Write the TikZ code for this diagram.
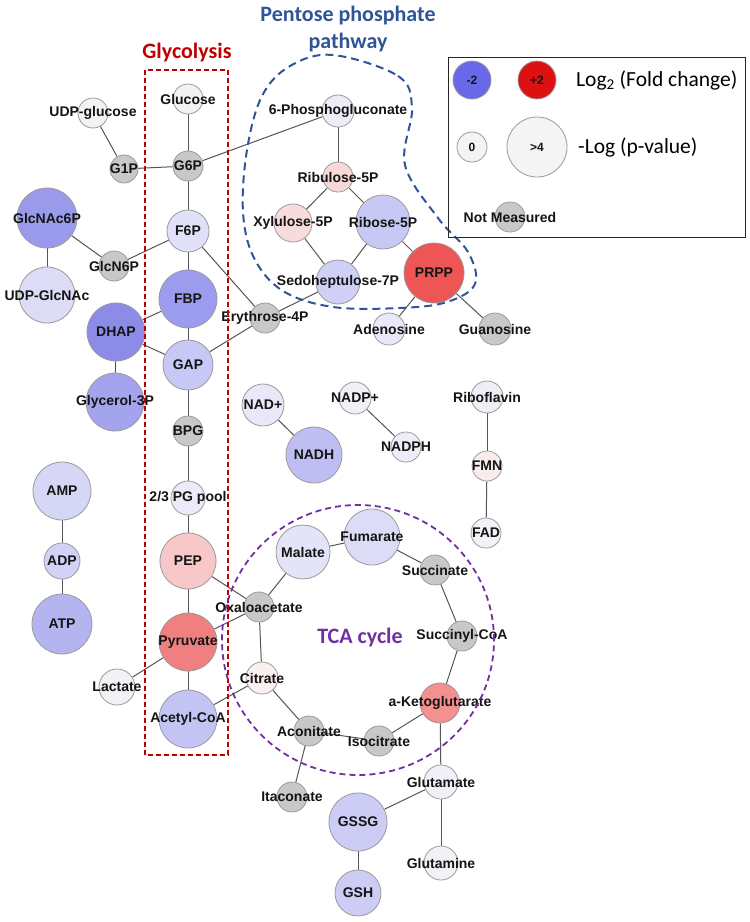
\documentclass[tikz,border=0pt]{standalone}
\usepackage{fontspec}
\setmainfont{Liberation Sans}
\newfontfamily\calfont{Carlito}
\pgfdeclarelayer{edgelayer}
\pgfsetlayers{edgelayer,main}
\definecolor{nodeborder}{HTML}{9A9A9A}
\definecolor{edgegray}{HTML}{555555}
\definecolor{glyred}{HTML}{C00000}
\definecolor{pppblue}{HTML}{2F5597}
\definecolor{tcapurple}{HTML}{7030A0}
\definecolor{nm}{HTML}{C8C8C8}
\newcommand\mnode[6]{%
  \definecolor{fill#1}{HTML}{#5}%
  \node[met,minimum size={2*#4pt},fill=fill#1,label={[lbl]center:{#6}}] (#1) at (#2,#3) {};}
\begin{document}
\begin{tikzpicture}[x=1pt,y=-1pt,
  met/.style={circle,draw=nodeborder,line width=0.8pt,inner sep=0pt},
  lbl/.style={font=\bfseries\fontsize{14}{14}\selectfont,text=black!92,inner sep=0pt},
  edge/.style={draw=edgegray,line width=1pt},
  ttl/.style={font=\calfont\bfseries\fontsize{22}{27}\selectfont,align=center},
  legtxt/.style={font=\calfont\fontsize{21.5}{22}\selectfont,anchor=west,inner sep=0pt},
  leglbl/.style={font=\bfseries\fontsize{12}{12}\selectfont,text=black!92,inner sep=0pt}]
\useasboundingbox (0,0) rectangle (750,922);
% metabolites
\mnode{udpglc}{93}{113}{15}{F3F3F6}{UDP-glucose}
\mnode{glucose}{188}{99}{15}{F3F3F5}{Glucose}
\mnode{gonep}{124}{169}{14}{C8C8C8}{G1P}
\mnode{gsixp}{188}{166}{15}{C8C8C8}{G6P}
\mnode{pgsix}{338}{111}{16}{EDEDF8}{6-Phosphogluconate}
\mnode{ruvp}{338}{177}{15}{F8D8D8}{Ribulose-5P}
\mnode{xuvp}{293}{223}{19}{F8DCDC}{Xylulose-5P}
\mnode{rvp}{383}{222}{27}{C8C8F4}{Ribose-5P}
\mnode{fsixp}{188}{231}{21}{E0E0F8}{F6P}
\mnode{glcnacp}{47}{218}{30}{9A9AEC}{GlcNAc6P}
\mnode{glcnp}{114}{266}{15}{C8C8C8}{GlcN6P}
\mnode{udpglcnac}{47}{295}{28}{DCDCF6}{UDP-GlcNAc}
\mnode{fbp}{188}{299}{29}{9C9CEE}{FBP}
\mnode{dhap}{116}{332}{29}{8C8CE8}{DHAP}
\mnode{gap}{188}{365}{25}{C8C8F6}{GAP}
\mnode{glythreep}{115}{402}{29}{A4A4EE}{Glycerol-3P}
\mnode{bpg}{188}{431}{15}{C8C8C8}{BPG}
\mnode{efourp}{265}{318}{15}{C8C8C8}{Erythrose-4P}
\mnode{ssevenp}{338}{282}{22}{D0D0F6}{Sedoheptulose-7P}
\mnode{prpp}{434}{273}{30}{EE5555}{PRPP}
\mnode{adenosine}{389}{329}{16}{E8E8F8}{Adenosine}
\mnode{guanosine}{495}{329}{16}{C8C8C8}{Guanosine}
\mnode{nadplus}{263}{405}{21}{E8E8F8}{NAD+}
\mnode{nadh}{314}{455}{28}{BEBEF2}{NADH}
\mnode{nadpplus}{355}{398}{16}{F0F0F6}{NADP+}
\mnode{nadph}{406}{447}{15}{EEEEF8}{NADPH}
\mnode{ribo}{487}{397}{16}{EEEEF6}{Riboflavin}
\mnode{fmn}{487}{466}{15}{F8ECEC}{FMN}
\mnode{fad}{486}{533}{15}{F2F2F6}{FAD}
\mnode{amp}{62}{491}{29}{D6D6F6}{AMP}
\mnode{adp}{62}{561}{18}{D2D2F6}{ADP}
\mnode{atp}{62}{624}{30}{B4B4F0}{ATP}
\mnode{pgpool}{188}{498}{17}{EAEAF8}{2/3 PG pool}
\mnode{pep}{188}{561}{28}{F8C8C8}{PEP}
\mnode{pyr}{188}{642}{29}{F08080}{Pyruvate}
\mnode{acoa}{188}{719}{29}{C4C4F4}{Acetyl-CoA}
\mnode{lac}{117}{687}{18}{F2F2F6}{Lactate}
\mnode{oaa}{259}{607}{15}{C8C8C8}{Oxaloacetate}
\mnode{mal}{303}{552}{27}{E4E4F8}{Malate}
\mnode{fum}{372}{537}{28}{DCDCF6}{Fumarate}
\mnode{suc}{435}{570}{15}{C8C8C8}{Succinate}
\mnode{succoa}{462}{636}{15}{C8C8C8}{Succinyl-CoA}
\mnode{akg}{440}{703}{20}{F49090}{a-Ketoglutarate}
\mnode{icit}{379}{741}{15}{C8C8C8}{Isocitrate}
\mnode{acon}{309}{731}{15}{C8C8C8}{Aconitate}
\mnode{cit}{262}{678}{16}{FAF0F0}{Citrate}
\mnode{itac}{292}{797}{15}{C8C8C8}{Itaconate}
\mnode{glu}{441}{782}{17}{F0F0F8}{Glutamate}
\mnode{gln}{441}{863}{17}{F2F2F6}{Glutamine}
\mnode{gssg}{358}{822}{29}{CCCCF4}{GSSG}
\mnode{gsh}{358}{893}{23}{CCCCF4}{GSH}
% edges
\begin{pgfonlayer}{edgelayer}
\draw[edge] (udpglc)--(gonep);
\draw[edge] (gonep)--(gsixp);
\draw[edge] (glucose)--(gsixp);
\draw[edge] (gsixp)--(pgsix);
\draw[edge] (gsixp)--(fsixp);
\draw[edge] (pgsix)--(ruvp);
\draw[edge] (ruvp)--(xuvp);
\draw[edge] (ruvp)--(rvp);
\draw[edge] (xuvp)--(ssevenp);
\draw[edge] (rvp)--(ssevenp);
\draw[edge] (rvp)--(prpp);
\draw[edge] (prpp)--(adenosine);
\draw[edge] (prpp)--(guanosine);
\draw[edge] (ssevenp)--(efourp);
\draw[edge] (fsixp)--(efourp);
\draw[edge] (fsixp)--(glcnp);
\draw[edge] (glcnacp)--(glcnp);
\draw[edge] (glcnacp)--(udpglcnac);
\draw[edge] (fsixp)--(fbp);
\draw[edge] (fbp)--(dhap);
\draw[edge] (fbp)--(gap);
\draw[edge] (dhap)--(gap);
\draw[edge] (gap)--(efourp);
\draw[edge] (dhap)--(glythreep);
\draw[edge] (gap)--(bpg);
\draw[edge] (bpg)--(pgpool);
\draw[edge] (pgpool)--(pep);
\draw[edge] (pep)--(pyr);
\draw[edge] (pep)--(oaa);
\draw[edge] (pyr)--(oaa);
\draw[edge] (pyr)--(lac);
\draw[edge] (pyr)--(acoa);
\draw[edge] (acoa)--(cit);
\draw[edge] (oaa)--(mal);
\draw[edge] (oaa)--(cit);
\draw[edge] (mal)--(fum);
\draw[edge] (fum)--(suc);
\draw[edge] (suc)--(succoa);
\draw[edge] (succoa)--(akg);
\draw[edge] (akg)--(icit);
\draw[edge] (icit)--(acon);
\draw[edge] (acon)--(cit);
\draw[edge] (acon)--(itac);
\draw[edge] (akg)--(glu);
\draw[edge] (glu)--(gssg);
\draw[edge] (glu)--(gln);
\draw[edge] (gssg)--(gsh);
\draw[edge] (nadplus)--(nadh);
\draw[edge] (nadpplus)--(nadph);
\draw[edge] (ribo)--(fmn);
\draw[edge] (fmn)--(fad);
\draw[edge] (amp)--(adp);
\draw[edge] (adp)--(atp);
\end{pgfonlayer}
% pathway outlines
\draw[glyred,line width=1.8pt,dash pattern=on 5pt off 3pt] (145,70) rectangle (228,755);
\draw[pppblue,line width=2pt,dash pattern=on 8pt off 5pt]
  plot[smooth cycle,tension=0.6] coordinates {(333,55) (398,76) (412,108) (405,165) (438,218) (468,252) (475,284) (447,302) (400,308) (333,307) (283,291) (254,258) (243,212) (247,150) (262,96) (290,66)};
\draw[tcapurple,line width=1.8pt,dash pattern=on 6pt off 4pt] (358,640) ellipse [x radius=136pt,y radius=135pt];
% titles
\node[ttl,text=glyred] (tglyc) at (187,53) {Glycolysis};
\node[ttl,text=pppblue] (tppp) at (348,29) {Pentose phosphate\\pathway};
\node[ttl,text=tcapurple] (ttca) at (360,638) {TCA cycle};
% legend
\node[draw=black!85,line width=0.8pt,minimum width=297pt,minimum height=180pt,inner sep=0pt] (legend) at (596.5,147) {};
\node[met,minimum size=38pt,fill={rgb,255:red,104;green,104;blue,232},label={[leglbl]center:{-2}}] (lneg) at (472,80) {};
\node[met,minimum size=38pt,fill={rgb,255:red,221;green,17;blue,17},label={[leglbl]center:{+2}}] (lpos) at (537,80) {};
\node[legtxt] (lfc) at (576,80) {Log\textsubscript{2} (Fold change)};
\node[met,minimum size=30pt,fill={rgb,255:red,244;green,244;blue,244},label={[leglbl]center:{0}}] (lzero) at (472,147) {};
\node[met,minimum size=60pt,fill={rgb,255:red,244;green,244;blue,244},label={[leglbl]center:{>4}}] (lfour) at (537,147) {};
\node[legtxt] (lpv) at (578,147) {-Log (p-value)};
\node[met,minimum size=30pt,fill=nm,label={[lbl]center:{Not Measured}}] (lnm) at (510,217) {};
\end{tikzpicture}
\end{document}
